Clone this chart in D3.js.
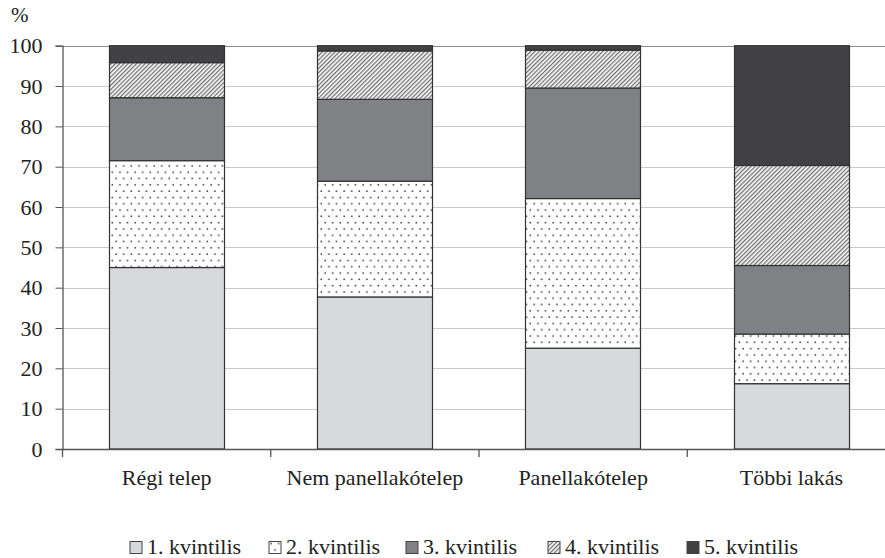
<!DOCTYPE html>
<html><head><meta charset="utf-8">
<script src="https://cdn.jsdelivr.net/npm/d3@7"></script>
<style>body{margin:0;background:#fff}svg{display:block}</style>
</head><body><svg id="c" width="885" height="558"></svg>
<script>
const categories = ["Régi telep", "Nem panellakótelep", "Panellakótelep", "Többi lakás"];
const seriesNames = ["1. kvintilis", "2. kvintilis", "3. kvintilis", "4. kvintilis", "5. kvintilis"];
const q1 = [45.0, 37.7, 25.0, 16.2];
const q2 = [26.5, 28.7, 37.1, 12.3];
const q3 = [15.6, 20.3, 27.4, 17.0];
const q4 = [8.7, 12.0, 9.4, 24.8];
const q5 = [4.2, 1.3, 1.1, 29.7];
const yTicks = [0, 10, 20, 30, 40, 50, 60, 70, 80, 90, 100];
const unitLabel = "%";

const FONT = "'Liberation Serif'";
const svg = d3.select("#c");
const defs = svg.append("defs");
const dots = defs.append("pattern").attr("id","dots").attr("patternUnits","userSpaceOnUse").attr("width",7.6).attr("height",12.6);
dots.append("rect").attr("width",7.6).attr("height",12.6).attr("fill","#fff");
dots.append("rect").attr("x",1.4).attr("y",1.4).attr("width",1.5).attr("height",1.5).attr("fill","#333");
dots.append("rect").attr("x",5.2).attr("y",7.7).attr("width",1.5).attr("height",1.5).attr("fill","#333");
const hatch = defs.append("pattern").attr("id","hatch").attr("patternUnits","userSpaceOnUse").attr("width",3).attr("height",3).attr("patternTransform","rotate(45)");
hatch.append("rect").attr("width",3).attr("height",3).attr("fill","#fff");
hatch.append("rect").attr("x",0).attr("y",0).attr("width",1.3).attr("height",3).attr("fill","#6e6e70");
const fills = ["#d8d9db", "url(#dots)", "#808184", "url(#hatch)", "#414042"];

const x = d3.scaleBand().domain(categories).range([62.5, 895.5]).paddingInner(0.446).paddingOuter(0.223);
const y = d3.scaleLinear().domain([0,100]).range([449, 45.7]);

// gridlines
svg.append("g").selectAll("line").data(yTicks.filter(d=>d>0)).join("line")
  .attr("x1",62.5).attr("x2",885).attr("y1",d=>Math.round(y(d))+0.5).attr("y2",d=>Math.round(y(d))+0.5)
  .attr("stroke",d=>d===100?"#8a8a8a":"#c8c8c8").attr("stroke-width",1);

const table = categories.map((c,i)=>({cat:c,"1. kvintilis":q1[i],"2. kvintilis":q2[i],"3. kvintilis":q3[i],"4. kvintilis":q4[i],"5. kvintilis":q5[i]}));
const stacked = d3.stack().keys(seriesNames)(table);
svg.append("g").selectAll("g").data(stacked).join("g").attr("fill",(d,i)=>fills[i])
  .selectAll("rect").data(d=>d).join("rect")
  .attr("x",d=>Math.round(x(d.data.cat))+0.5).attr("width",Math.round(x.bandwidth()))
  .attr("y",d=>y(d[1])).attr("height",d=>y(d[0])-y(d[1]))
  .attr("stroke","#333").attr("stroke-width",1.2);

// y axis
const yAxis = d3.axisLeft(y).tickValues(yTicks).tickSize(7).tickPadding(13).tickFormat(d3.format("d"));
const ga = svg.append("g").attr("transform","translate(62.5,0)").call(yAxis).attr("font-family",null).attr("font-size",null);
ga.select(".domain").attr("stroke","#555").attr("stroke-width",1.3);
ga.selectAll(".tick line").attr("stroke","#555");
ga.selectAll("text").style("font-family",FONT).style("font-size","22px").style("fill","#222");

// x axis
const xAxis = d3.axisBottom(x).tickSize(0).tickPadding(20);
const gx = svg.append("g").attr("transform","translate(0,449.5)").call(xAxis).attr("font-family",null).attr("font-size",null);
gx.select(".domain").attr("stroke","#555").attr("stroke-width",1.3).attr("d","M62.5,0H895");
gx.selectAll("text").style("font-family",FONT).style("font-size","22px").style("fill","#222");
// category boundary ticks
svg.append("g").selectAll("line").data(d3.range(categories.length+1)).join("line")
  .attr("x1",i=>62.5+i*x.step()).attr("x2",i=>62.5+i*x.step())
  .attr("y1",449).attr("y2",457).attr("stroke","#555").attr("stroke-width",1.3);

svg.append("text").attr("x",11).attr("y",22).style("font-family",FONT).style("font-size","21px").style("fill","#222").text(unitLabel);

// legend
const legX = [130, 269, 406, 548, 687];
const leg = svg.append("g").selectAll("g").data(seriesNames).join("g")
  .attr("transform",(d,i)=>`translate(${legX[i]},541.5)`);
leg.append("rect").attr("width",12).attr("height",12).attr("fill",(d,i)=>fills[i]).attr("stroke","#444").attr("stroke-width",1);
leg.append("text").attr("x",17).attr("y",12).style("font-family",FONT).style("font-size","22px").style("fill","#222").text(d=>d);
</script></body></html>
